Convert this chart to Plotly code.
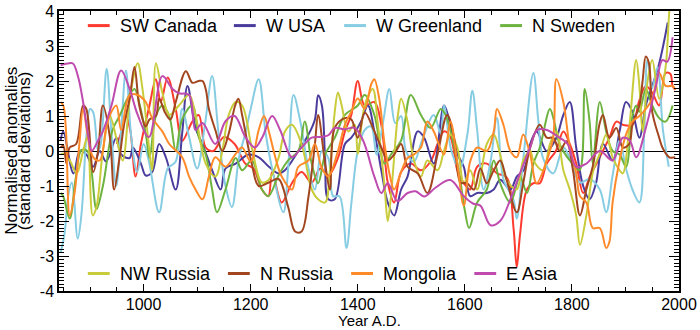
import plotly.graph_objects as go

# Regional temperature-proxy records, 20-yr smoothed, normalised to unit std
sw_canada_years = [950, 960, 967, 975, 985, 995, 1011, 1023, 1032, 1045, 1060, 1072, 1091, 1103, 1116, 1130, 1150, 1170, 1190, 1205, 1221, 1233, 1240, 1258, 1277, 1295, 1314, 1330, 1345, 1363, 1376, 1388, 1400, 1413, 1431, 1444, 1456, 1468, 1481, 1499, 1518, 1536, 1549, 1561, 1573, 1586, 1598, 1610, 1623, 1641, 1660, 1678, 1691, 1697, 1703, 1716, 1728, 1740, 1753, 1770, 1784, 1796, 1808, 1821, 1833, 1852, 1870, 1883, 1895, 1913, 1925, 1938, 1950, 1963, 1975, 1984, 1988, 1993]
sw_canada_vals = [0.2, 0.6, 1.0, 0.6, -0.73, 0.2, 1.3, 2.05, 1.4, 2.1, 1.2, 0.29, 0.84, 1.03, 0.1, 0.0, 0.4, 0.2, -0.36, -0.5, -1.1, -1.29, -0.6, -1.47, -0.92, -0.6, -0.9, -0.5, -0.7, -0.2, 0.56, 1.03, 2.0, 1.3, 1.4, 0.75, -0.9, -1.47, -0.6, -0.36, -0.55, -0.3, 0.2, 0.56, 0.4, -0.55, -0.92, -1.1, -0.45, -0.36, -0.64, -0.75, -2.21, -3.32, -2.4, -1.1, -0.92, -0.92, -0.36, 0.0, 0.56, 0.2, -0.36, -1.2, -0.75, -0.18, 0.38, 0.84, 0.75, 0.75, 1.4, 1.86, 1.67, 1.3, 2.23, 2.2, 1.86, 1.75]

w_usa_years = [845, 850, 869, 881, 893, 906, 918, 930, 949, 958, 974, 980, 995, 1004, 1016, 1029, 1042, 1060, 1072, 1082, 1097, 1110, 1128, 1144, 1153, 1172, 1196, 1215, 1234, 1252, 1264, 1289, 1308, 1320, 1326, 1333, 1339, 1345, 1357, 1376, 1388, 1406, 1419, 1431, 1444, 1456, 1468, 1481, 1493, 1512, 1524, 1542, 1561, 1570, 1586, 1598, 1610, 1623, 1641, 1654, 1666, 1685, 1697, 1710, 1722, 1734, 1753, 1771, 1784, 1796, 1808, 1821, 1833, 1845, 1858, 1876, 1889, 1901, 1913, 1926, 1938, 1950, 1963, 1979]
w_usa_vals = [0.3, 0.56, -0.64, 0.0, -0.1, -0.45, 0.0, -0.3, 0.38, -0.1, -0.2, 0.1, -0.36, -0.7, -0.6, 0.2, -0.2, -1.1, 0.5, 1.86, 0.66, 0.2, -0.55, -1.1, -0.5, -0.36, -0.1, -0.18, -0.45, -0.64, -0.55, 0.0, 0.47, 0.9, 1.59, 1.3, -0.2, -1.38, -1.38, 0.2, 0.38, 0.84, 1.3, 0.56, -0.55, -1.47, -1.84, -1.1, -0.73, 0.56, 0.38, -0.36, 1.3, 0.94, -0.08, -0.45, -1.29, -1.2, -1.2, -1.1, -0.82, -1.1, -0.73, -0.55, 0.2, 0.56, 0.0, 0.38, 1.03, 1.4, 0.1, -1.0, -1.38, -0.92, 0.2, -0.27, 0.56, 1.4, 1.12, 0.38, 1.3, 1.86, 2.5, 3.67]

w_greenland_years = [845, 852, 860, 866, 877, 884, 893, 900, 906, 915, 920, 931, 940, 949, 958, 967, 977, 988, 1000, 1010, 1029, 1045, 1060, 1072, 1085, 1100, 1115, 1128, 1140, 1153, 1165, 1178, 1190, 1200, 1215, 1228, 1240, 1261, 1270, 1280, 1292, 1308, 1320, 1333, 1345, 1354, 1366, 1379, 1388, 1400, 1413, 1425, 1435, 1447, 1459, 1470, 1481, 1490, 1505, 1520, 1542, 1555, 1561, 1575, 1590, 1605, 1614, 1623, 1635, 1648, 1660, 1672, 1691, 1697, 1710, 1728, 1737, 1746, 1765, 1784, 1796, 1815, 1833, 1852, 1864, 1876, 1889, 1901, 1913, 1926, 1935, 1941, 1950, 1960, 1970, 1981]
w_greenland_vals = [-2.9, -2.4, -1.2, -0.9, -2.5, -1.8, 0.4, 1.2, 1.1, 0.0, 0.2, 2.35, 0.5, -1.0, 0.6, 2.3, 0.4, -0.6, 0.2, -0.3, -1.75, -0.5, -0.3, 1.2, 0.4, -0.5, 0.8, 2.14, 0.5, -1.0, -1.6, -0.2, 0.5, 1.2, 2.05, 0.5, -0.5, -1.75, -0.5, 1.6, 0.9, -0.5, -1.1, 0.0, -0.2, -1.29, -1.3, -2.77, -1.5, 0.0, 0.6, 0.7, -0.1, 0.8, 1.77, 0.8, 1.0, 0.0, -0.3, 0.3, 1.03, 0.5, 1.3, 0.0, -0.5, 0.5, 1.72, 0.6, -1.1, -0.3, 0.94, -0.8, -1.4, -1.93, -0.1, 2.23, 0.9, -0.2, -0.64, 0.1, -0.2, -0.9, -0.8, -1.1, -1.75, -0.7, 0.3, -0.5, -1.1, -1.47, 0.5, 2.6, 1.8, 2.4, 0.6, -0.45]

n_sweden_years = [845, 850, 862, 873, 884, 895, 903, 912, 924, 942, 955, 970, 983, 993, 1005, 1011, 1023, 1035, 1048, 1060, 1072, 1091, 1103, 1116, 1128, 1137, 1153, 1172, 1184, 1202, 1221, 1233, 1252, 1270, 1289, 1301, 1314, 1326, 1339, 1357, 1376, 1400, 1413, 1431, 1450, 1462, 1481, 1499, 1518, 1536, 1555, 1564, 1579, 1592, 1600, 1608, 1623, 1641, 1654, 1666, 1685, 1703, 1716, 1728, 1740, 1759, 1766, 1777, 1796, 1814, 1824, 1833, 1839, 1852, 1864, 1876, 1889, 1901, 1913, 1920, 1926, 1938, 1950, 1963, 1975, 1988]
n_sweden_vals = [-1.2, -1.3, -1.93, -0.8, 0.03, 0.0, -0.6, -1.66, -1.0, 0.6, 1.0, 1.5, 1.77, 1.3, 0.4, -0.2, 1.0, 1.3, 1.0, 0.0, 0.9, 1.3, 0.4, -0.1, -1.1, -1.75, -1.1, -0.2, -0.55, -0.27, -1.1, -1.29, -0.7, -0.27, 0.0, 0.84, -0.36, -0.92, -0.1, 0.38, 1.03, 1.3, 1.6, 1.03, -0.36, -0.1, 0.3, 1.6, 1.03, 0.66, 1.2, 1.03, 0.2, -0.9, -1.7, -2.2, -1.47, -1.1, -0.27, -0.92, -1.47, -0.73, -1.2, -0.36, 0.1, 1.2, 0.9, 0.2, -0.27, -0.55, 1.77, 0.84, -0.36, 1.4, 0.56, 0.0, -0.1, -0.45, 1.0, 1.3, 1.12, 1.77, 1.3, 0.94, 0.84, 1.3]

nw_russia_years = [845, 850, 862, 875, 887, 895, 905, 912, 924, 937, 949, 961, 975, 989, 998, 1011, 1016, 1023, 1035, 1048, 1066, 1085, 1097, 1116, 1134, 1147, 1159, 1172, 1184, 1202, 1221, 1234, 1252, 1264, 1277, 1295, 1314, 1326, 1339, 1348, 1357, 1363, 1370, 1382, 1394, 1400, 1413, 1428, 1437, 1450, 1456, 1462, 1475, 1481, 1493, 1505, 1518, 1530, 1549, 1561, 1573, 1586, 1598, 1610, 1623, 1641, 1654, 1666, 1678, 1697, 1709, 1722, 1728, 1746, 1759, 1771, 1784, 1796, 1808, 1815, 1827, 1840, 1852, 1864, 1876, 1889, 1895, 1907, 1920, 1926, 1932, 1941, 1950, 1963, 1975, 1982, 1985]
nw_russia_vals = [-0.1, -0.08, -0.27, -0.64, 0.0, 0.4, -1.84, -1.6, 0.0, 1.0, 0.38, -0.27, 1.6, 2.51, 1.77, 0.0, -0.55, 2.51, 1.67, 1.03, 1.3, 1.6, 1.03, -0.36, -0.73, 0.0, 1.03, 1.4, 1.3, 0.1, -0.9, -0.82, -0.2, 0.56, 0.75, 0.2, -1.1, -1.38, -1.47, -0.55, 1.12, 1.67, 1.3, 0.56, 0.75, -0.08, 1.3, 1.77, 0.84, -1.0, -2.0, -1.29, 1.03, 1.49, 0.84, -0.27, -0.73, -0.27, -0.55, 0.0, 0.47, 0.1, -0.92, -0.55, -1.1, 0.2, 0.47, -0.1, -0.82, -1.1, -0.27, 0.0, -0.27, -0.55, 0.2, 0.56, -0.55, -1.1, -1.84, -2.68, -1.84, -0.55, -0.08, 0.47, -0.18, -0.55, -0.64, 0.66, 2.6, 1.86, 0.56, 1.96, 2.6, 1.49, 2.4, 4.0, 4.3]

n_russia_years = [845, 850, 856, 862, 874, 887, 893, 906, 915, 924, 937, 945, 955, 964, 974, 983, 992, 1004, 1011, 1023, 1029, 1040, 1050, 1060, 1079, 1091, 1103, 1110, 1116, 1122, 1134, 1147, 1159, 1171, 1177, 1184, 1202, 1215, 1234, 1252, 1270, 1283, 1295, 1308, 1320, 1326, 1339, 1348, 1357, 1376, 1388, 1400, 1413, 1431, 1444, 1456, 1468, 1481, 1493, 1512, 1530, 1549, 1567, 1580, 1592, 1604, 1617, 1629, 1641, 1654, 1666, 1678, 1697, 1709, 1722, 1740, 1753, 1765, 1777, 1790, 1802, 1815, 1827, 1840, 1852, 1858, 1870, 1883, 1895, 1907, 1913, 1926, 1932, 1938, 1944, 1950, 1963, 1969, 1982, 1993]
n_russia_vals = [0.1, 0.15, -0.36, 0.1, 0.2, 1.3, 1.2, -0.6, 0.0, 1.3, 0.4, -1.1, -0.2, 0.8, 1.5, 2.4, 1.3, 0.7, 0.9, 1.0, 1.5, 1.1, 0.9, 1.4, 2.28, 1.95, 2.0, 2.0, 1.77, 1.2, 0.6, 0.0, 0.5, 1.3, 1.49, 1.03, -0.36, -1.0, -0.9, -0.8, -1.6, -2.3, -2.3, -1.3, 0.2, 1.03, -0.36, -1.1, 0.66, 0.94, 0.9, 0.38, 1.1, 0.56, 0.1, -0.27, -0.1, 0.2, -0.45, -0.64, -1.2, -0.1, 1.03, 0.38, -0.9, -0.92, -1.1, -0.5, -0.92, -0.55, -0.27, -0.82, -1.75, -0.92, 0.1, 0.75, 0.38, 0.38, 0.0, 0.28, -0.55, -1.84, -1.1, -0.36, 0.8, 1.03, 0.38, 0.66, 0.1, 0.2, 0.75, 1.3, 2.0, 2.7, 2.5, 1.12, 0.38, 0.1, -0.18, -0.18]

mongolia_years = [845, 850, 855, 862, 871, 880, 887, 896, 906, 918, 930, 937, 949, 958, 974, 989, 1004, 1016, 1035, 1048, 1072, 1085, 1097, 1110, 1122, 1134, 1153, 1172, 1184, 1200, 1215, 1225, 1234, 1246, 1258, 1277, 1289, 1308, 1320, 1332, 1345, 1363, 1376, 1388, 1400, 1413, 1425, 1431, 1440, 1450, 1460, 1468, 1481, 1493, 1505, 1518, 1530, 1542, 1561, 1573, 1586, 1598, 1610, 1623, 1641, 1654, 1660, 1672, 1685, 1697, 1709, 1722, 1734, 1753, 1765, 1771, 1784, 1796, 1808, 1815, 1827, 1839, 1852, 1864, 1870, 1876, 1889, 1901, 1913, 1926, 1938, 1950, 1963, 1975, 1988, 1993]
mongolia_vals = [1.4, 1.3, 0.6, -1.84, -1.2, 0.2, 1.2, 0.4, -0.18, -0.27, 0.66, 1.03, 1.3, 0.6, 1.6, 1.6, 1.4, 0.94, 0.56, 0.2, -0.18, -0.73, -1.1, -1.38, -0.73, -0.18, -0.45, -0.08, 0.1, -0.3, 0.6, 1.0, 0.56, -0.18, -0.73, -1.1, -0.45, -0.27, 0.2, -0.45, -0.73, 0.0, 0.75, 1.12, 1.5, 1.2, 1.9, 2.05, 1.5, 0.2, -0.7, -1.1, -0.6, -0.2, -0.1, 0.1, 0.84, 0.56, -0.1, 0.84, -0.36, -1.56, -0.3, 0.1, 0.0, 0.56, 1.2, 0.75, 0.0, -0.18, 0.47, -0.1, -0.92, -0.27, 0.38, 2.05, 1.4, 0.1, -0.64, -1.29, -1.47, -2.2, -2.2, -2.77, -2.6, -1.47, -0.27, 0.47, 0.84, 1.0, 1.2, 1.49, 2.23, 1.86, 1.86, 1.75]

e_asia_years = [845, 858, 868, 878, 887, 896, 903, 915, 924, 940, 958, 974, 989, 1010, 1035, 1054, 1066, 1085, 1097, 1110, 1134, 1153, 1170, 1190, 1208, 1222, 1240, 1255, 1277, 1295, 1314, 1330, 1345, 1357, 1375, 1394, 1410, 1431, 1444, 1456, 1474, 1493, 1508, 1524, 1545, 1573, 1598, 1615, 1629, 1648, 1666, 1685, 1703, 1722, 1735, 1753, 1777, 1792, 1808, 1827, 1852, 1876, 1895, 1908, 1920, 1938, 1957, 1969, 1978, 1988]
e_asia_vals = [2.45, 2.5, 2.5, 2.1, 1.4, 0.5, 0.0, 0.3, 0.56, 1.3, 2.3, 1.77, 1.03, 0.4, 2.14, 1.77, 1.65, 1.6, 0.6, 0.8, 0.2, 0.85, 1.0, 0.4, 0.1, 0.4, 1.0, 0.6, -0.18, 0.1, 0.38, 0.4, 0.45, 0.66, 0.62, 0.66, 0.3, -0.73, -1.2, -0.92, -1.43, -1.2, -1.15, -1.3, -1.05, -0.83, -1.29, -1.5, -1.56, -2.12, -2.0, -1.38, -0.64, 0.1, 0.6, 0.6, 0.38, 0.2, -0.45, -0.36, 0.0, -0.27, 0.38, 0.3, -0.18, 0.66, 1.86, 2.6, 2.55, 3.25]

series_names = ["SW Canada", "W USA", "W Greenland", "N Sweden",
                "NW Russia", "N Russia", "Mongolia", "E Asia"]
series_colors = ["#FF3B30", "#4A3C9C", "#86CCE2", "#6DB33F",
                 "#C9CC3A", "#A2461F", "#FF8A2A", "#BF4BAF"]
series_years = [sw_canada_years, w_usa_years, w_greenland_years, n_sweden_years,
                nw_russia_years, n_russia_years, mongolia_years, e_asia_years]
series_vals = [sw_canada_vals, w_usa_vals, w_greenland_vals, n_sweden_vals,
               nw_russia_vals, n_russia_vals, mongolia_vals, e_asia_vals]

x_ticks = [1000, 1200, 1400, 1600, 1800, 2000]
y_ticks = [-4, -3, -2, -1, 0, 1, 2, 3, 4]

FONT = "Liberation Sans, Arial, Helvetica, sans-serif"

fig = go.Figure()
for name, color, yrs, vals in zip(series_names, series_colors, series_years, series_vals):
    fig.add_trace(go.Scatter(
        x=yrs, y=vals, mode="lines", name=name,
        line=dict(color=color, width=2, shape="spline", smoothing=1.0),
        showlegend=False,
    ))

# Plot-area geometry in pixels (700 x 330 canvas)
W, H = 700, 330
L, R, T, B = 59, 17, 3, 39
pw, ph = W - L - R, H - T - B


def px_x(px):
    return (px - L) / pw


def px_y(py):
    return (H - B - py) / ph


# Two-row key: line swatch + label
key_rows = [
    (18, [(88, 0), (235, 1), (346, 2), (503, 3)]),
    (273, [(88, 4), (229, 5), (353, 6), (477, 7)]),
]
for row_y, entries in key_rows:
    for x0, idx in entries:
        fig.add_shape(type="line", xref="paper", yref="paper",
                      x0=px_x(x0), x1=px_x(x0 + 22), y0=px_y(row_y), y1=px_y(row_y),
                      line=dict(color=series_colors[idx], width=3))
        fig.add_annotation(xref="paper", yref="paper", x=px_x(x0 + 30), y=px_y(row_y),
                           text=series_names[idx], showarrow=False,
                           xanchor="left", yanchor="middle",
                           font=dict(family=FONT, size=18, color="black"))

# Axis titles
fig.add_annotation(xref="paper", yref="paper", x=px_x(10.5), y=px_y(147),
                   text="Normalised anomalies", textangle=-90, showarrow=False,
                   xanchor="center", yanchor="middle",
                   font=dict(family=FONT, size=17, color="black"))
fig.add_annotation(xref="paper", yref="paper", x=px_x(24), y=px_y(147),
                   text="(standard deviations)", textangle=-90, showarrow=False,
                   xanchor="center", yanchor="middle",
                   font=dict(family=FONT, size=17, color="black"))
fig.add_annotation(xref="paper", yref="paper", x=px_x(371), y=px_y(321),
                   text="Year A.D.", showarrow=False,
                   xanchor="center", yanchor="middle",
                   font=dict(family=FONT, size=15, color="black"))

fig.update_xaxes(
    range=[842, 2000], tickvals=x_ticks, ticktext=[str(v) for v in x_ticks],
    ticks="inside", ticklen=7, tickwidth=1.2, tickcolor="black",
    minor=dict(dtick=50, tick0=1000, ticks="inside", ticklen=4, tickwidth=1.2, tickcolor="black"),
    showline=True, linecolor="black", linewidth=1.5, mirror="ticks",
    showgrid=False, zeroline=False, ticklabeloverflow="allow",
    ticklabelstandoff=-2,
    tickfont=dict(family=FONT, size=16, color="black"),
)
fig.update_yaxes(
    range=[-4, 4], tickvals=y_ticks, ticktext=[str(v) for v in y_ticks],
    ticks="inside", ticklen=10, tickwidth=1.2, tickcolor="black",
    minor=dict(dtick=0.1, tick0=0, ticks="inside", ticklen=5, tickwidth=1, tickcolor="black"),
    showline=True, linecolor="black", linewidth=1.5, mirror="ticks",
    showgrid=False, zeroline=True, zerolinecolor="black", zerolinewidth=1,
    ticklabeloverflow="allow",
    tickfont=dict(family=FONT, size=16, color="black"),
)

fig.update_layout(
    width=W, height=H,
    margin=dict(l=L, r=R, t=T, b=B, pad=0),
    paper_bgcolor="white", plot_bgcolor="white",
    showlegend=False,
)

fig.write_html("out.html")
